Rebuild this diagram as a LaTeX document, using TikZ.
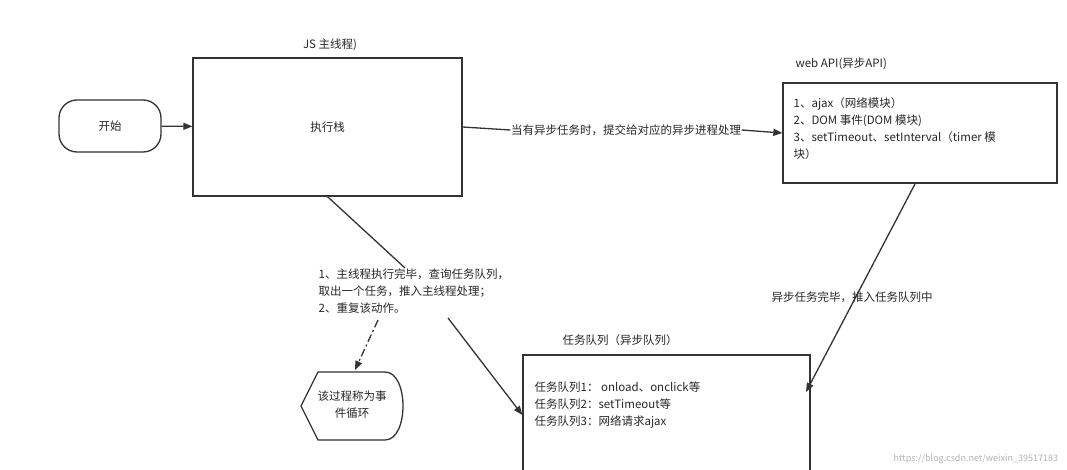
\documentclass[tikz,border=0pt]{standalone}
\usepackage{fontspec}
\setmainfont{Noto Sans CJK SC}
\usetikzlibrary{arrows.meta}
\begin{document}
\begin{tikzpicture}[x=1pt,y=-1pt,line width=1.3pt,draw=black!80,
  txt/.style={font=\fontsize{11.5}{17}\selectfont,text=black!85,inner sep=0pt},
  arr/.style={-{Triangle[length=9pt,width=7pt]}},
  box/.style={draw,rectangle,inner sep=0pt}]
\useasboundingbox (0,0) rectangle (1067,470);
\node[draw,rounded corners=18pt,minimum width=102pt,minimum height=52pt,txt] (start) at (110,126) {开始};
\node[box,minimum width=269pt,minimum height=138pt,txt] (exec) at (327.5,127) {执行栈};
\node[txt] (jsl) at (330,45) {JS 主线程)};
\node[box,minimum width=274pt,minimum height=100pt] (web) at (920,133) {};
\node[txt,anchor=south west] (webl) at (795,70) {web API(异步API)};
\node[txt,align=left,anchor=north west] (webt) at (793,97) {1、ajax（网络模块）\\2、DOM 事件(DOM 模块)\\3、setTimeout、setInterval（timer 模\\块）};
\node[box,minimum width=287pt,minimum height=120pt] (queue) at (666.5,415) {};
\node[txt] (ql) at (620,340) {任务队列（异步队列）};
\node[txt,align=left,anchor=north west] (qt) at (534,381) {任务队列1： onload、onclick等\\任务队列2：setTimeout等\\任务队列3：网络请求ajax};
\node[txt,align=left,anchor=north west] (ml) at (318,268) {1、主线程执行完毕，查询任务队列，\\取出一个任务，推入主线程处理；\\2、重复该动作。};
\node[txt] (asyncl) at (626,130) {当有异步任务时，提交给对应的异步进程处理};
\node[txt] (donel) at (852,297) {异步任务完毕，推入任务队列中};
\coordinate (m1) at (405,268);
\coordinate (m2) at (448,318);
\coordinate (m3) at (378,320);
\coordinate (w1) at (915,184);
\coordinate (q1) at (806,392);
\coordinate (loop) at (355,370);
\draw[arr] (start) -- (exec);
\draw[arr] (exec.east) -- (asyncl.west) (asyncl.east) -- (web.west);
\draw (exec.south) -- (m1);
\draw[arr] (m2) -- (queue.west);
\draw[arr,dash pattern=on 8pt off 3pt on 2pt off 3pt] (m3) -- (loop);
\draw[arr] (w1) -- (q1);
\draw (318,372) -- (385,372) .. controls (409,372) and (409,440) .. (385,440) -- (318,440) -- (301,406) -- cycle;
\node[txt,align=center] (loopt) at (352,405) {该过程称为事\\件循环};
\node[font=\fontsize{9}{11}\selectfont,text=black!30,anchor=south east] (wm) at (1062,468) {https://blog.csdn.net/weixin\_39517183};
\end{tikzpicture}
\end{document}
